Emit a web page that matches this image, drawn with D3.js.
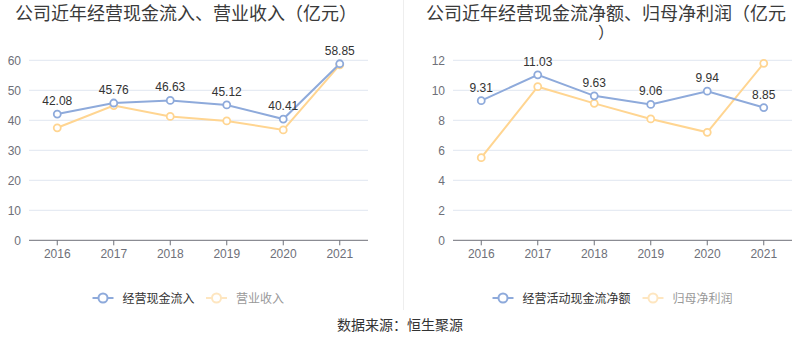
<!DOCTYPE html>
<html><head><meta charset="utf-8">
<script src="https://cdn.jsdelivr.net/npm/d3@7"></script>
<style>body{margin:0;background:#fff}svg{display:block}text{font-family:"Noto Sans CJK SC","Liberation Sans",Arial,sans-serif}</style>
</head><body><svg id="c" width="800" height="358"></svg>
<script>
const years = ["2016","2017","2018","2019","2020","2021"];
const cashIn = [42.08,45.76,46.63,45.12,40.41,58.85];
const revenue = [37.5,44.9,41.3,39.8,36.8,58.5];
const netCash = [9.31,11.03,9.63,9.06,9.94,8.85];
const netProfit = [5.51,10.24,9.13,8.09,7.2,11.8];
const leftTicks = [0,10,20,30,40,50,60];
const rightTicks = [0,2,4,6,8,10,12];

const blue = "#8eaadb", orange = "#ffd591";
const svg = d3.select("#c");
const numFont = "'Liberation Sans',Arial,sans-serif";

function panel(o){
  const g = svg.append("g");
  const x = d3.scaleBand().domain(years).range([o.x0,o.x1]);
  const y = d3.scaleLinear().domain([0,o.max]).range([240.3,60.3]);
  const cx = d => x(d)+x.bandwidth()/2;
  g.selectAll(".grid").data(o.ticks.slice(1)).join("line")
    .attr("x1",o.x0).attr("x2",o.x1).attr("y1",d=>y(d)).attr("y2",d=>y(d))
    .attr("stroke","#e0e6f1").attr("stroke-width",1);
  g.selectAll(".yl").data(o.ticks).join("text")
    .attr("x",o.x0-8).attr("y",d=>y(d)+4.5).attr("text-anchor","end")
    .attr("font-size",12).attr("fill","#6e7079").style("font-family",numFont).text(d=>d);
  g.append("line").attr("x1",o.x0).attr("x2",o.x1).attr("y1",y(0)).attr("y2",y(0)).attr("stroke","#6e7079");
  g.selectAll(".xt").data(years).join("line")
    .attr("x1",d=>cx(d)).attr("x2",d=>cx(d)).attr("y1",y(0)).attr("y2",y(0)+5).attr("stroke","#6e7079");
  g.selectAll(".xl").data(years).join("text")
    .attr("x",d=>cx(d)).attr("y",y(0)+18).attr("text-anchor","middle")
    .attr("font-size",12).attr("fill","#6e7079").style("font-family",numFont).text(d=>d);
  const line = d3.line().x((d,i)=>cx(years[i])).y(d=>y(d));
  [[o.s2,orange],[o.s1,blue]].forEach(([s,c])=>{
    g.append("path").attr("d",line(s)).attr("fill","none").attr("stroke",c).attr("stroke-width",2);
    g.selectAll(null).data(s).join("circle")
      .attr("cx",(d,i)=>cx(years[i])).attr("cy",d=>y(d)).attr("r",3.5)
      .attr("fill","#fff").attr("stroke",c).attr("stroke-width",1.8);
  });
  g.selectAll(".lab").data(o.s1).join("text")
    .attr("x",(d,i)=>cx(years[i])).attr("y",d=>y(d)-9).attr("text-anchor","middle")
    .attr("font-size",12).attr("fill","#333").style("font-family",numFont).text(d=>d.toFixed(2));
  o.title.forEach((t,i)=>{
    g.append("text").attr("x",o.tx).attr("y",20+i*18).attr("text-anchor","middle")
      .attr("font-size",i?16:18).attr("fill","#3a3a3a").text(t);
  });
  o.legend.forEach((L,i)=>{
    const lx = L.x, ly = 298;
    g.append("line").attr("x1",lx).attr("x2",lx+21).attr("y1",ly).attr("y2",ly).attr("stroke",L.c).attr("stroke-width",2);
    g.append("circle").attr("cx",lx+10.5).attr("cy",ly).attr("r",4.5).attr("fill","#fff").attr("stroke",L.c).attr("stroke-width",2);
    g.append("text").attr("x",lx+30).attr("y",ly+4.5).attr("font-size",12).attr("fill",L.tc).text(L.t);
  });
}

panel({x0:29,x1:368,max:60,ticks:leftTicks,s1:cashIn,s2:revenue,tx:186,
  title:["公司近年经营现金流入、营业收入（亿元）"],
  legend:[{x:92.5,c:blue,tc:"#333",t:"经营现金流入"},{x:206,c:"#fee6c0",tc:"#999",t:"营业收入"}]});
panel({x0:453,x1:792,max:12,ticks:rightTicks,s1:netCash,s2:netProfit,tx:606,
  title:["公司近年经营现金流净额、归母净利润（亿元","）"],
  legend:[{x:492.5,c:blue,tc:"#333",t:"经营活动现金流净额"},{x:642.5,c:"#fee6c0",tc:"#999",t:"归母净利润"}]});

svg.append("line").attr("x1",403.5).attr("x2",403.5).attr("y1",0).attr("y2",310).attr("stroke","#eeeeee");
svg.append("text").attr("x",400).attr("y",330).attr("text-anchor","middle").attr("font-size",14).attr("fill","#333").text("数据来源：恒生聚源");
</script></body></html>
